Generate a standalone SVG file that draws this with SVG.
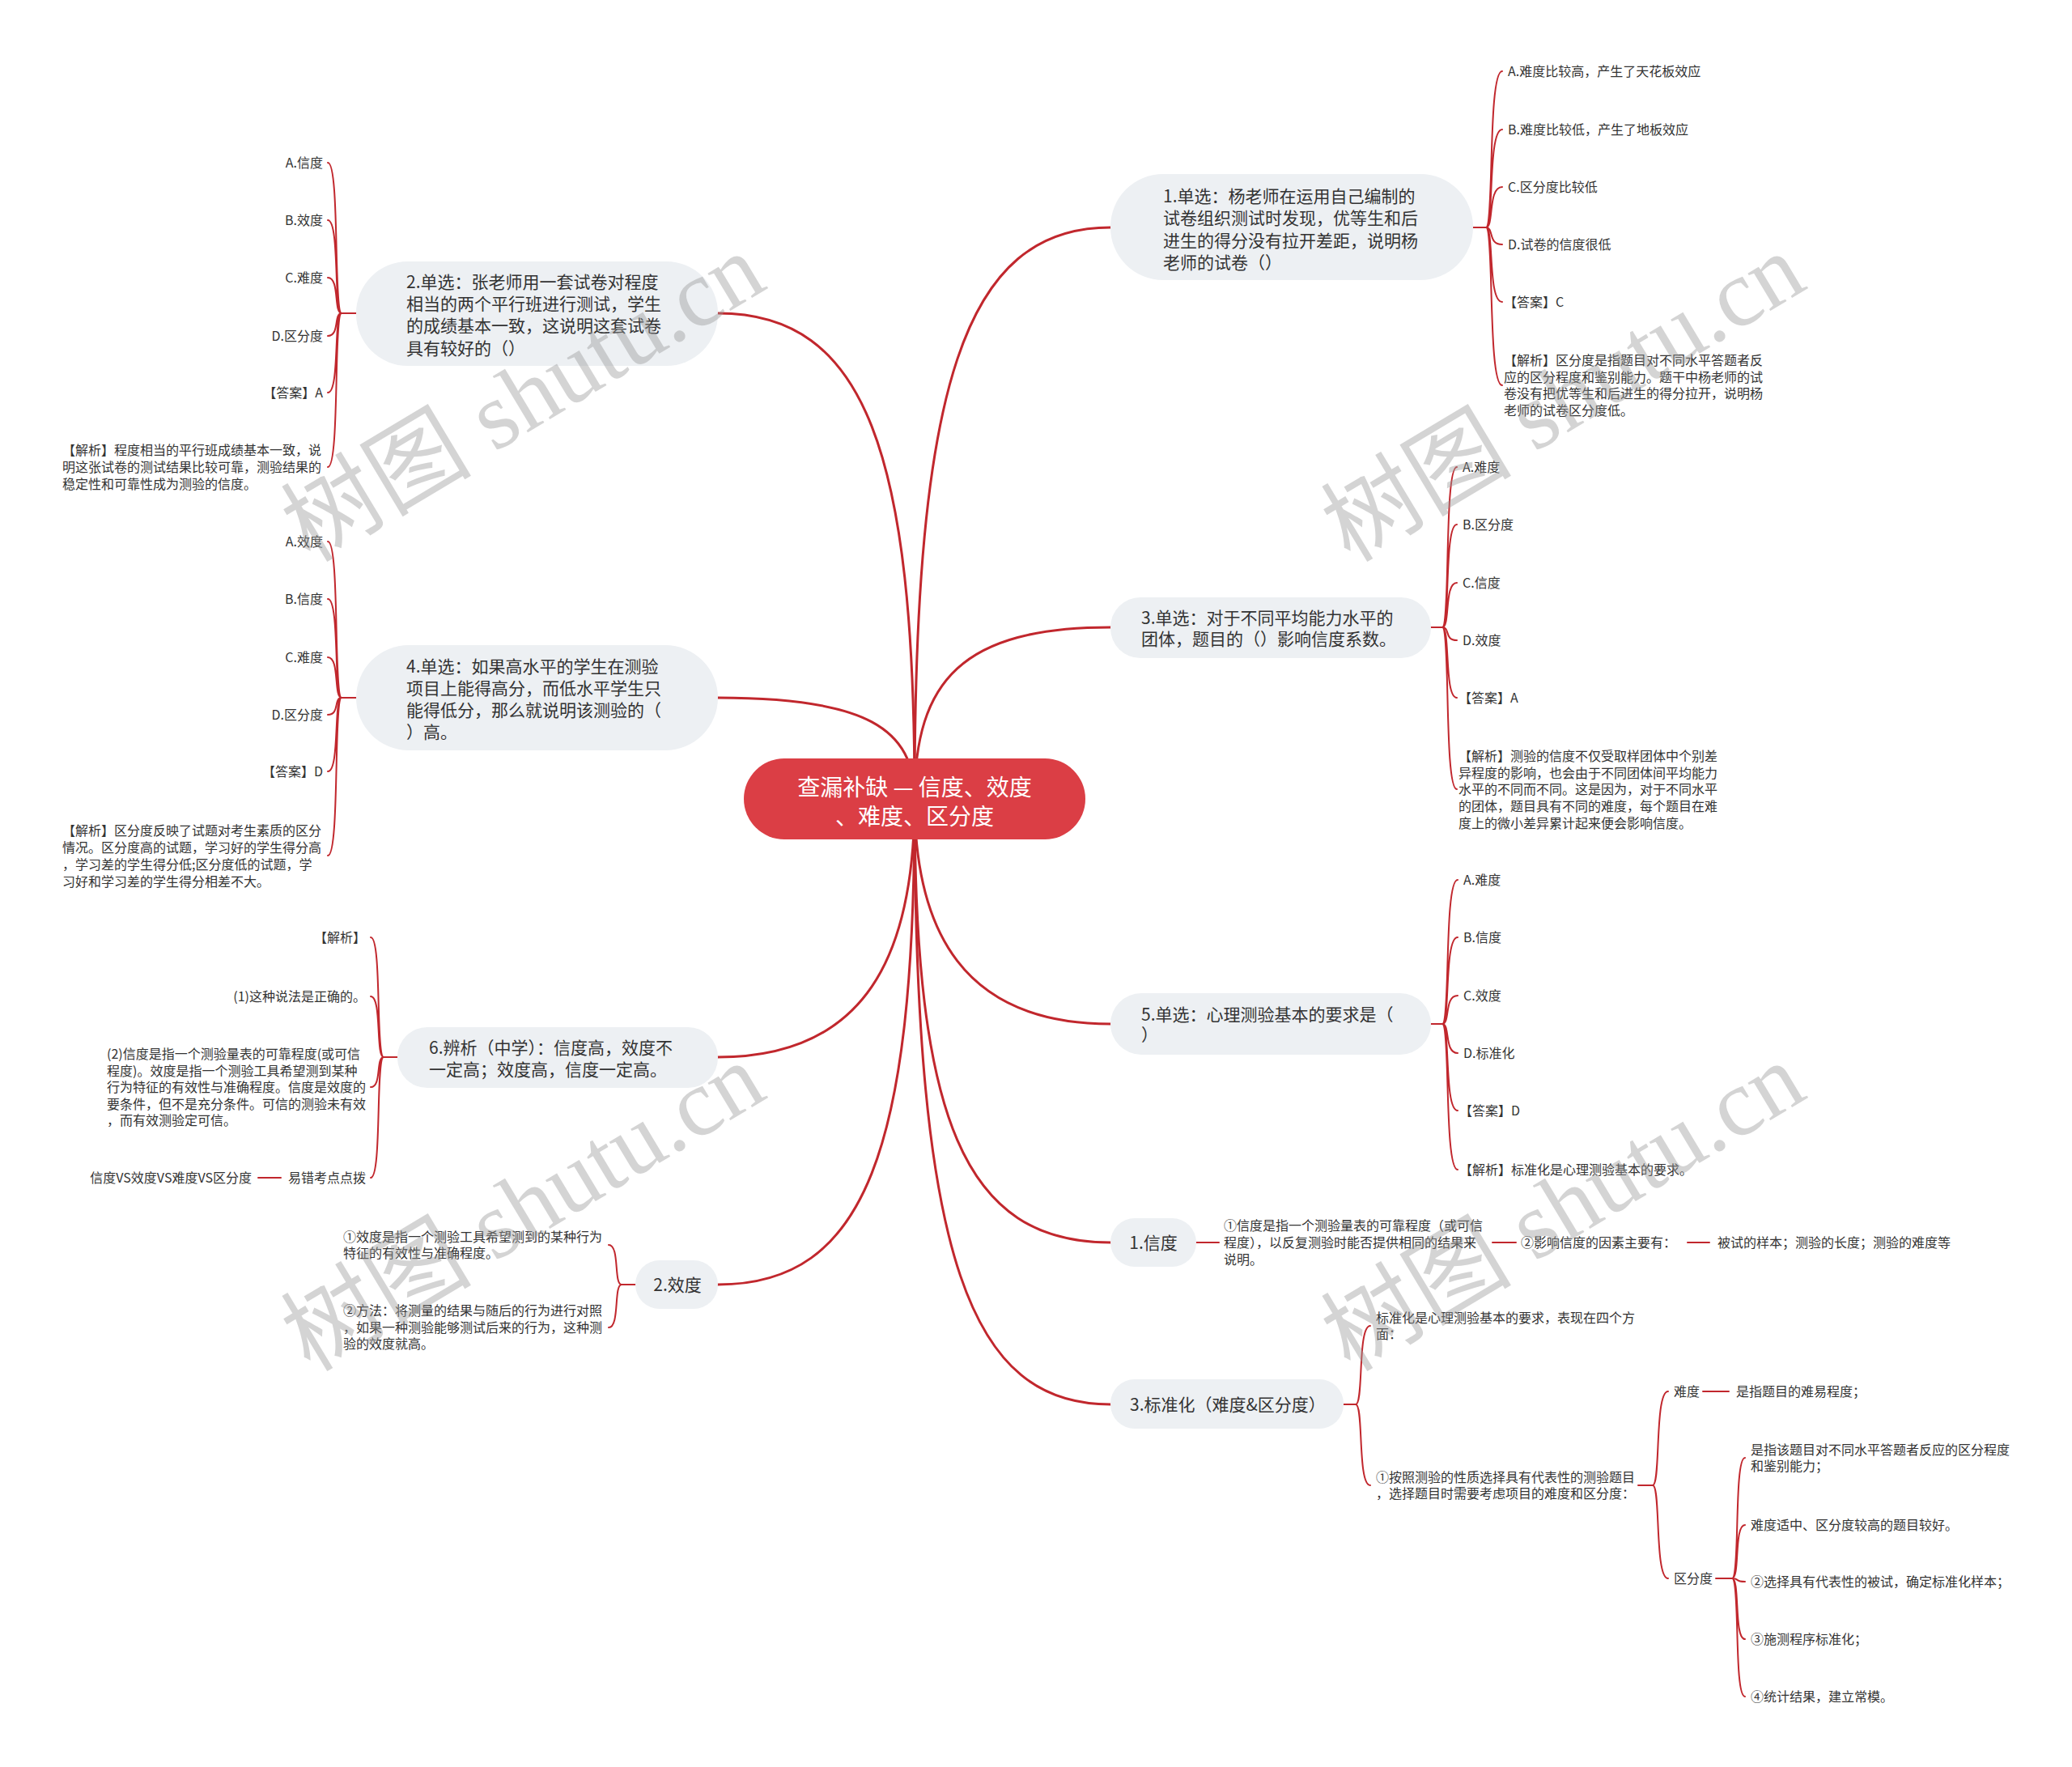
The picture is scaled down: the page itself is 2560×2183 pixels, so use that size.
<svg xmlns="http://www.w3.org/2000/svg" width="2560" height="2183" viewBox="0 0 2560 2183">
<style>
.t{font-family:"Noto Sans CJK SC","Noto Sans",sans-serif;fill:#333}
.leaf{font-size:16px}
.br{font-size:21px}
.rootT{font-size:28px;fill:#fff}
.nd{fill:#edf0f3}
.ln{fill:none;stroke:#c1272d;stroke-width:2;stroke-linecap:round}
.mn{stroke-width:3}
.wm{font-family:"Liberation Serif","Noto Sans CJK SC",serif;font-size:118px;fill:#9a9a9a;opacity:0.42}
</style>
<rect width="2560" height="2183" fill="#fff"/>
<g id="connectors">
<path class="ln mn" d="M1130,987 C1130,480 1190,281 1372,281"/>
<path class="ln mn" d="M1130,987 C1130,840 1190,775 1372,775"/>
<path class="ln mn" d="M1130,987 C1130,1150 1190,1265 1372,1265"/>
<path class="ln mn" d="M1130,987 C1130,1380 1190,1535 1372,1535"/>
<path class="ln mn" d="M1130,987 C1130,1560 1200,1735 1372,1735"/>
<path class="ln mn" d="M1130,987 C1130,560 1070,387 887,387"/>
<path class="ln mn" d="M1130,987 C1130,900 1070,862 887,862"/>
<path class="ln mn" d="M1130,987 C1130,1180 1070,1306 887,1306"/>
<path class="ln mn" d="M1130,987 C1130,1420 1070,1587 887,1587"/>
<path class="ln" d="M1820,281 H1836 M1836,281 C1846,281 1838,88 1856,88 M1836,281 C1846,281 1838,160 1856,160 M1836,281 C1846,281 1838,231 1856,231 M1836,281 C1846,281 1838,302 1856,302 M1836,281 C1846,281 1838,373 1856,373 M1836,281 C1846,281 1838,476 1856,476"/>
<path class="ln" d="M1768,775 H1782 M1782,775 C1792,775 1784,577 1800,577 M1782,775 C1792,775 1784,648 1800,648 M1782,775 C1792,775 1784,720 1800,720 M1782,775 C1792,775 1784,791 1800,791 M1782,775 C1792,775 1784,862 1800,862 M1782,775 C1792,775 1784,975 1800,975"/>
<path class="ln" d="M1768,1265 H1782 M1782,1265 C1792,1265 1784,1087 1801,1087 M1782,1265 C1792,1265 1784,1158 1801,1158 M1782,1265 C1792,1265 1784,1230 1801,1230 M1782,1265 C1792,1265 1784,1301 1801,1301 M1782,1265 C1792,1265 1784,1372 1801,1372 M1782,1265 C1792,1265 1784,1445 1801,1445"/>
<path class="ln" d="M440,387 H422 M422,387 C412,387 420,201 405,201 M422,387 C412,387 420,272 405,272 M422,387 C412,387 420,343 405,343 M422,387 C412,387 420,415 405,415 M422,387 C412,387 420,485 405,485 M422,387 C412,387 420,577 405,577"/>
<path class="ln" d="M440,862 H422 M422,862 C412,862 420,669 405,669 M422,862 C412,862 420,740 405,740 M422,862 C412,862 420,812 405,812 M422,862 C412,862 420,883 405,883 M422,862 C412,862 420,953 405,953 M422,862 C412,862 420,1057 405,1057"/>
<path class="ln" d="M491,1306 H474 M474,1306 C464,1306 472,1158 458,1158 M474,1306 C464,1306 472,1231 458,1231 M474,1306 C464,1306 472,1343 458,1343 M474,1306 C464,1306 472,1455 458,1455 M347,1455 H319"/>
<path class="ln" d="M785,1587 H768 M768,1587 C758,1587 766,1538 752,1538 M768,1587 C758,1587 766,1640 752,1640"/>
<path class="ln" d="M1478,1535 H1506 M1844,1535 H1873 M2085,1535 H2112"/>
<path class="ln" d="M1660,1735 H1675 M1675,1735 C1685,1735 1677,1638 1693,1638 M1675,1735 C1685,1735 1677,1835 1693,1835"/>
<path class="ln" d="M2024,1835 H2042 M2042,1835 C2052,1835 2044,1719 2061,1719 M2042,1835 C2052,1835 2044,1950 2061,1950 M2104,1719 H2136"/>
<path class="ln" d="M2120,1950 H2140 M2140,1950 C2150,1950 2142,1801 2156,1801 M2140,1950 C2150,1950 2142,1884 2156,1884 M2140,1950 C2150,1950 2142,1954 2156,1954 M2140,1950 C2150,1950 2142,2025 2156,2025 M2140,1950 C2150,1950 2142,2096 2156,2096"/>
</g>
<g id="root">
<rect x="919" y="937" width="422" height="100" rx="50" fill="#db3e45"/>
<text class="t rootT" text-anchor="middle"><tspan x="1130" y="983">查漏补缺 — 信度、效度</tspan><tspan x="1130" y="1019">、难度、区分度</tspan></text>
</g>
<g id="q1">
<rect class="nd" x="1372" y="215" width="448" height="131" rx="65"/>
<text class="t br"><tspan x="1437" y="250">1.单选：杨老师在运用自己编制的</tspan><tspan x="1437" y="277">试卷组织测试时发现，优等生和后</tspan><tspan x="1437" y="305">进生的得分没有拉开差距，说明杨</tspan><tspan x="1437" y="332">老师的试卷（）</tspan></text>
</g>
<g id="q1-children" class="t leaf">
<text x="1863" y="94">A.难度比较高，产生了天花板效应</text>
<text x="1863" y="166">B.难度比较低，产生了地板效应</text>
<text x="1863" y="237">C.区分度比较低</text>
<text x="1863" y="308">D.试卷的信度很低</text>
<text x="1858" y="379">【答案】C</text>
<text><tspan x="1858" y="451">【解析】区分度是指题目对不同水平答题者反</tspan><tspan x="1858" y="472">应的区分程度和鉴别能力。题干中杨老师的试</tspan><tspan x="1858" y="492">卷没有把优等生和后进生的得分拉开，说明杨</tspan><tspan x="1858" y="513">老师的试卷区分度低。</tspan></text>
</g>
<g id="q3">
<rect class="nd" x="1372" y="738" width="396" height="75" rx="37"/>
<text class="t br"><tspan x="1410" y="771">3.单选：对于不同平均能力水平的</tspan><tspan x="1410" y="797">团体，题目的（）影响信度系数。</tspan></text>
</g>
<g id="q3-children" class="t leaf">
<text x="1807" y="583">A.难度</text>
<text x="1807" y="654">B.区分度</text>
<text x="1807" y="726">C.信度</text>
<text x="1807" y="797">D.效度</text>
<text x="1802" y="868">【答案】A</text>
<text><tspan x="1802" y="940">【解析】测验的信度不仅受取样团体中个别差</tspan><tspan x="1802" y="961">异程度的影响，也会由于不同团体间平均能力</tspan><tspan x="1802" y="981">水平的不同而不同。这是因为，对于不同水平</tspan><tspan x="1802" y="1002">的团体，题目具有不同的难度，每个题目在难</tspan><tspan x="1802" y="1023">度上的微小差异累计起来便会影响信度。</tspan></text>
</g>
<g id="q5">
<rect class="nd" x="1372" y="1227" width="396" height="76" rx="38"/>
<text class="t br"><tspan x="1410" y="1261">5.单选：心理测验基本的要求是（</tspan><tspan x="1410" y="1286">）</tspan></text>
</g>
<g id="q5-children" class="t leaf">
<text x="1808" y="1093">A.难度</text>
<text x="1808" y="1164">B.信度</text>
<text x="1808" y="1236">C.效度</text>
<text x="1808" y="1307">D.标准化</text>
<text x="1803" y="1378">【答案】D</text>
<text x="1803" y="1451">【解析】标准化是心理测验基本的要求。</text>
</g>
<g id="q2">
<rect class="nd" x="440" y="323" width="447" height="129" rx="64"/>
<text class="t br"><tspan x="502" y="356">2.单选：张老师用一套试卷对程度</tspan><tspan x="502" y="383">相当的两个平行班进行测试，学生</tspan><tspan x="502" y="410">的成绩基本一致，这说明这套试卷</tspan><tspan x="502" y="438">具有较好的（）</tspan></text>
</g>
<g id="q2-children" class="t leaf">
<text x="399" y="207" text-anchor="end">A.信度</text>
<text x="399" y="278" text-anchor="end">B.效度</text>
<text x="399" y="349" text-anchor="end">C.难度</text>
<text x="399" y="421" text-anchor="end">D.区分度</text>
<text x="399" y="491" text-anchor="end">【答案】A</text>
<text><tspan x="77" y="562">【解析】程度相当的平行班成绩基本一致，说</tspan><tspan x="77" y="583">明这张试卷的测试结果比较可靠，测验结果的</tspan><tspan x="77" y="604">稳定性和可靠性成为测验的信度。</tspan></text>
</g>
<g id="q4">
<rect class="nd" x="440" y="797" width="447" height="130" rx="65"/>
<text class="t br"><tspan x="502" y="831">4.单选：如果高水平的学生在测验</tspan><tspan x="502" y="858">项目上能得高分，而低水平学生只</tspan><tspan x="502" y="885">能得低分，那么就说明该测验的（</tspan><tspan x="502" y="912">）高。</tspan></text>
</g>
<g id="q4-children" class="t leaf">
<text x="399" y="675" text-anchor="end">A.效度</text>
<text x="399" y="746" text-anchor="end">B.信度</text>
<text x="399" y="818" text-anchor="end">C.难度</text>
<text x="399" y="889" text-anchor="end">D.区分度</text>
<text x="399" y="959" text-anchor="end">【答案】D</text>
<text><tspan x="77" y="1032">【解析】区分度反映了试题对考生素质的区分</tspan><tspan x="77" y="1053">情况。区分度高的试题，学习好的学生得分高</tspan><tspan x="77" y="1074">，学习差的学生得分低;区分度低的试题，学</tspan><tspan x="77" y="1095">习好和学习差的学生得分相差不大。</tspan></text>
</g>
<g id="q6">
<rect class="nd" x="491" y="1269" width="396" height="75" rx="37"/>
<text class="t br"><tspan x="530" y="1302">6.辨析（中学）：信度高，效度不</tspan><tspan x="530" y="1329">一定高；效度高，信度一定高。</tspan></text>
</g>
<g id="q6-children" class="t leaf">
<text x="452" y="1164" text-anchor="end">【解析】</text>
<text x="452" y="1237" text-anchor="end">(1)这种说法是正确的。</text>
<text><tspan x="132" y="1308">(2)信度是指一个测验量表的可靠程度(或可信</tspan><tspan x="132" y="1329">程度)。效度是指一个测验工具希望测到某种</tspan><tspan x="132" y="1349">行为特征的有效性与准确程度。信度是效度的</tspan><tspan x="132" y="1370">要条件，但不是充分条件。可信的测验未有效</tspan><tspan x="132" y="1390">，而有效测验定可信。</tspan></text>
<text x="452" y="1461" text-anchor="end">易错考点点拨</text>
<text x="311" y="1461" text-anchor="end">信度VS效度VS难度VS区分度</text>
</g>
<g id="xiaodu">
<rect class="nd" x="785" y="1557" width="102" height="60" rx="30"/>
<text class="t br" x="837" y="1595" text-anchor="middle">2.效度</text>
</g>
<g id="xiaodu-children" class="t leaf">
<text><tspan x="424" y="1534">①效度是指一个测验工具希望测到的某种行为</tspan><tspan x="424" y="1554">特征的有效性与准确程度。</tspan></text>
<text><tspan x="424" y="1625">②方法：将测量的结果与随后的行为进行对照</tspan><tspan x="424" y="1646">，如果一种测验能够测试后来的行为，这种测</tspan><tspan x="424" y="1666">验的效度就高。</tspan></text>
</g>
<g id="xindu">
<rect class="nd" x="1372" y="1505" width="106" height="60" rx="30"/>
<text class="t br" x="1425" y="1543" text-anchor="middle">1.信度</text>
</g>
<g id="xindu-children" class="t leaf">
<text><tspan x="1512" y="1520">①信度是指一个测验量表的可靠程度（或可信</tspan><tspan x="1512" y="1541">程度），以反复测验时能否提供相同的结果来</tspan><tspan x="1512" y="1562">说明。</tspan></text>
<text x="1879" y="1541">②影响信度的因素主要有：</text>
<text x="2122" y="1541">被试的样本；测验的长度；测验的难度等</text>
</g>
<g id="biaozhunhua">
<rect class="nd" x="1372" y="1704" width="288" height="61" rx="30"/>
<text class="t br" x="1396" y="1743">3.标准化（难度&amp;区分度）</text>
</g>
<g id="biaozhunhua-children" class="t leaf">
<text><tspan x="1700" y="1634">标准化是心理测验基本的要求，表现在四个方</tspan><tspan x="1700" y="1654">面：</tspan></text>
<text><tspan x="1700" y="1831">①按照测验的性质选择具有代表性的测验题目</tspan><tspan x="1700" y="1851">，选择题目时需要考虑项目的难度和区分度：</tspan></text>
<text x="2068" y="1725">难度</text>
<text x="2145" y="1725">是指题目的难易程度；</text>
<text x="2068" y="1956">区分度</text>
<text><tspan x="2163" y="1797">是指该题目对不同水平答题者反应的区分程度</tspan><tspan x="2163" y="1817">和鉴别能力；</tspan></text>
<text x="2163" y="1890">难度适中、区分度较高的题目较好。</text>
<text x="2163" y="1960">②选择具有代表性的被试，确定标准化样本；</text>
<text x="2163" y="2031">③施测程序标准化；</text>
<text x="2163" y="2102">④统计结果，建立常模。</text>
</g>
<g id="watermark">
<text class="wm" transform="translate(383,696) rotate(-31)">树图 shutu.cn</text>
<text class="wm" transform="translate(1668,696) rotate(-31)">树图 shutu.cn</text>
<text class="wm" transform="translate(383,1696) rotate(-31)">树图 shutu.cn</text>
<text class="wm" transform="translate(1668,1696) rotate(-31)">树图 shutu.cn</text>
</g>
</svg>
